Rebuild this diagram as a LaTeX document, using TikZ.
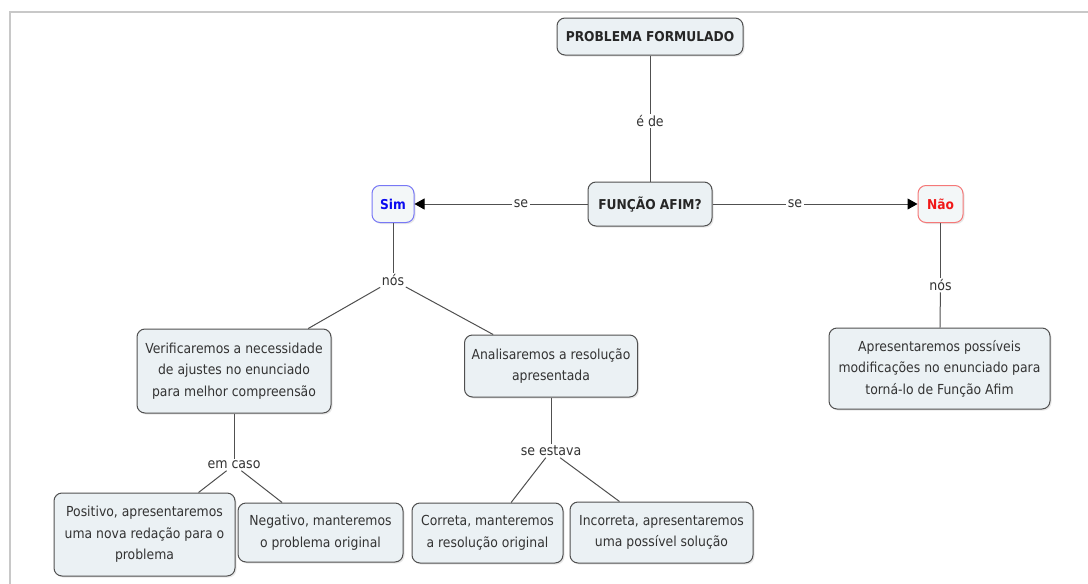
\documentclass[tikz,border=0pt]{standalone}
\usepackage{fontspec}
\setmainfont{DejaVu Sans Condensed}
\usetikzlibrary{arrows.meta,shadows}
\definecolor{boxfill}{HTML}{EBF1F4}
\definecolor{boxline}{HTML}{505050}
\definecolor{txt}{HTML}{333333}
\definecolor{conn}{HTML}{505050}
\definecolor{simblue}{HTML}{0A0AF0}
\definecolor{simline}{HTML}{7878F5}
\definecolor{naored}{HTML}{F01818}
\definecolor{naoline}{HTML}{F57878}
\definecolor{frame}{HTML}{C8C8C8}
\tikzset{
  concept/.style={draw=boxline, line width=1pt, fill=boxfill, rounded corners=8pt,
    text=txt, align=center, inner sep=0pt, font=\fontsize{13.8}{21.5}\selectfont,
    drop shadow={opacity=0.18, shadow xshift=1.5pt, shadow yshift=-1.5pt}},
  title/.style={concept, font=\bfseries\fontsize{13.6}{15}\selectfont, text=black!85},
  lbl/.style={fill=white, inner sep=1.5pt, text=txt, font=\fontsize{14}{16}\selectfont},
  link/.style={draw=conn, line width=1pt},
  arr/.style={link, -{Triangle[length=10pt,width=11pt,fill=black,color=black]}}
}
\begin{document}
\begin{tikzpicture}[x=1pt,y=-1pt]
\useasboundingbox (0,0) rectangle (1088,584);
\fill[white] (0,0) rectangle (1088,584);
\draw[frame, line width=2pt] (1088,12) -- (10,12) -- (10,584);

% concepts
\node[title, minimum width=186pt, minimum height=37pt] (prob) at (650,36.5) {PROBLEMA FORMULADO};
\node[title, minimum width=124pt, minimum height=44pt] (func) at (650,204) {FUNÇÃO AFIM?};
\node[title, minimum width=42pt, minimum height=37pt, draw=simline, fill=boxfill!60!white, text=simblue] (sim) at (393,204) {Sim};
\node[title, minimum width=45pt, minimum height=37pt, draw=naoline, fill=boxfill!60!white, text=naored] (nao) at (940.5,204) {Não};
\node[concept, minimum width=221pt, minimum height=81pt] (apr) at (939.5,368.5) {Apresentaremos possíveis\\modificações no enunciado para\\torná-lo de Função Afim};
\node[concept, minimum width=194pt, minimum height=84pt] (ver) at (234,371) {Verificaremos a necessidade\\de ajustes no enunciado\\para melhor compreensão};
\node[concept, minimum width=173pt, minimum height=62pt] (ana) at (551,366) {Analisaremos a resolução\\apresentada};
\node[concept, minimum width=181pt, minimum height=83pt] (pos) at (144.5,534.5) {Positivo, apresentaremos\\uma nova redação para o\\problema};
\node[concept, minimum width=165pt, minimum height=59pt] (neg) at (320.5,532.5) {Negativo, manteremos\\o problema original};
\node[concept, minimum width=151pt, minimum height=60pt] (cor) at (487.5,533) {Correta, manteremos\\a resolução original};
\node[concept, minimum width=183pt, minimum height=61pt] (inc) at (661.5,532.5) {Incorreta, apresentaremos\\uma possível solução};

% linking phrases
\node[lbl] (ede) at (650,121) {é de};
\node[lbl] (seL) at (521,204) {se};
\node[lbl] (seR) at (795,204) {se};
\node[lbl] (nosS) at (393,280) {nós};
\node[lbl] (nosN) at (940.5,285) {nós};
\node[lbl] (emcaso) at (234,465) {em caso};
\node[lbl] (seestava) at (551,451) {se estava};

% connectors
\draw[link] (prob) -- (ede);
\draw[link] (ede) -- (func);
\draw[link] (func) -- (seL);
\draw[arr] (seL) -- (sim);
\draw[link] (func) -- (seR);
\draw[arr] (seR) -- (nao);
\draw[link] (sim) -- (nosS);
\draw[link] (nosS) -- (ver);
\draw[link] (nosS) -- (ana);
\draw[link] (nao) -- (nosN);
\draw[link] (nosN) -- (apr);
\draw[link] (ver) -- (emcaso);
\draw[link] (emcaso) -- (pos);
\draw[link] (emcaso) -- (neg);
\draw[link] (ana) -- (seestava);
\draw[link] (seestava) -- (cor);
\draw[link] (seestava) -- (inc);
\end{tikzpicture}
\end{document}
